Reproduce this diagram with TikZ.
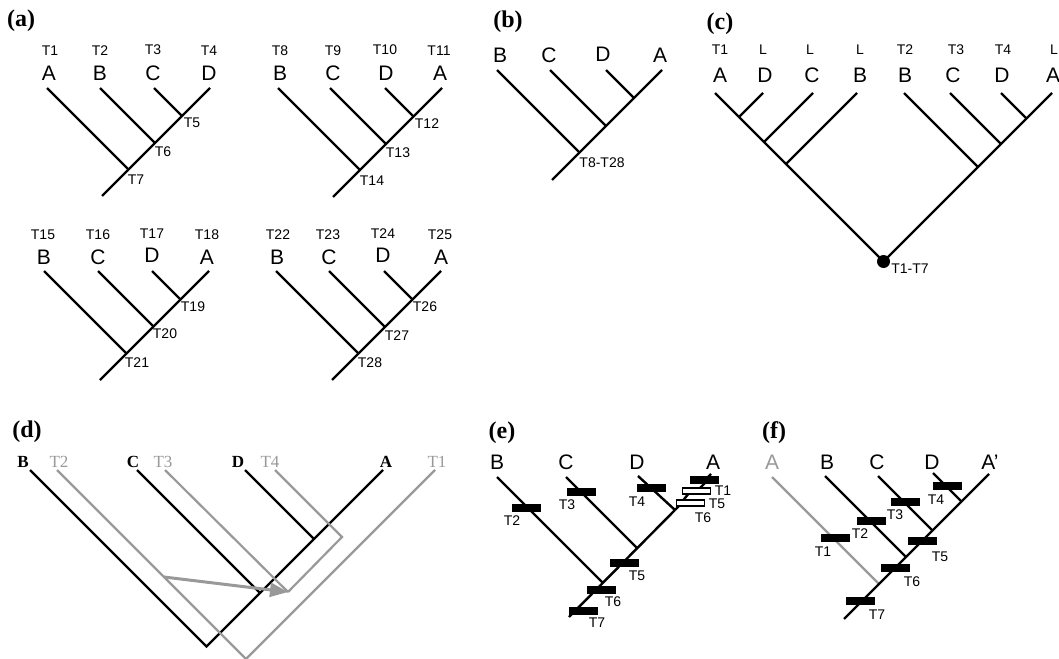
\documentclass[tikz,border=0pt]{standalone}
\usepackage{fontspec}
\setmainfont{Liberation Serif}
\newfontfamily\sansf{Liberation Sans}
\usetikzlibrary{arrows.meta}
\definecolor{gl}{gray}{0.6}
\begin{document}
\begin{tikzpicture}[x=1pt,y=-1pt,
  tree/.style={line width=2.4pt},
  gtree/.style={line width=2.2pt,draw=gl},
  lett/.style={font=\sansf\fontsize{21}{21}\selectfont,anchor=base,inner sep=0},
  tlab/.style={font=\sansf\fontsize{14}{14}\selectfont,anchor=base,inner sep=0},
  jlab/.style={font=\sansf\fontsize{14}{14}\selectfont,inner sep=0},
  panel/.style={font=\bfseries\fontsize{24}{24}\selectfont,inner sep=0},
  dlet/.style={font=\bfseries\fontsize{17}{17}\selectfont,anchor=base,inner sep=0},
  dgl/.style={font=\fontsize{17}{17}\selectfont,anchor=base,inner sep=0,text=gl},
  bar/.style={fill=black,minimum width=29pt,minimum height=8pt,inner sep=0},
  wbar/.style={draw=black,fill=white,line width=1.3pt,minimum width=28pt,minimum height=6pt,inner sep=0},
]
\useasboundingbox (0,0) rectangle (1059,658);

% ---------------- panel (a) ----------------
\node[panel] (pa) at (21,21) {(a)};
% tree 1
\node[tlab] (a1L1) at (50,56) {T1};
\node[tlab] (a1L2) at (100,56) {T2};
\node[tlab] (a1L3) at (153,55) {T3};
\node[tlab] (a1L4) at (209,56) {T4};
\node[lett] (a1A) at (49,81) {A};
\node[lett] (a1B) at (100,81) {B};
\node[lett] (a1C) at (153,81) {C};
\node[lett] (a1D) at (209,81) {D};
\coordinate (a1t1) at (47,88);
\coordinate (a1t2) at (100,88);
\coordinate (a1t3) at (154,88);
\coordinate (a1t4) at (210,88);
\coordinate (a1j3) at (182,116);
\coordinate (a1j2) at (155,143);
\coordinate (a1j1) at (128.5,169.5);
\coordinate (a1r) at (102,196);
\draw[tree] (a1t4) -- (a1r);
\draw[tree] (a1t1) -- (a1j1);
\draw[tree] (a1t2) -- (a1j2);
\draw[tree] (a1t3) -- (a1j3);
\node[jlab] (a1n5) at (192,123) {T5};
\node[jlab] (a1n6) at (163,152) {T6};
\node[jlab] (a1n7) at (136,180) {T7};
% tree 2
\node[tlab] (a2L1) at (280,56) {T8};
\node[tlab] (a2L2) at (333,56) {T9};
\node[tlab] (a2L3) at (385,55) {T10};
\node[tlab] (a2L4) at (439,56) {T11};
\node[lett] (a2B) at (280,81) {B};
\node[lett] (a2C) at (333,81) {C};
\node[lett] (a2D) at (386,81) {D};
\node[lett] (a2A) at (440,81) {A};
\coordinate (a2t1) at (278,88);
\coordinate (a2t2) at (330,88);
\coordinate (a2t3) at (385,88);
\coordinate (a2t4) at (442,88);
\coordinate (a2j3) at (413.5,116.5);
\coordinate (a2j2) at (386,144);
\coordinate (a2j1) at (360,170);
\coordinate (a2r) at (333,197);
\draw[tree] (a2t4) -- (a2r);
\draw[tree] (a2t1) -- (a2j1);
\draw[tree] (a2t2) -- (a2j2);
\draw[tree] (a2t3) -- (a2j3);
\node[jlab] (a2n12) at (427,124) {T12};
\node[jlab] (a2n13) at (398,153) {T13};
\node[jlab] (a2n14) at (372,181) {T14};
% tree 3
\node[tlab] (a3L1) at (43,239) {T15};
\node[tlab] (a3L2) at (98,239) {T16};
\node[tlab] (a3L3) at (152,238) {T17};
\node[tlab] (a3L4) at (207,239) {T18};
\node[lett] (a3B) at (44,264) {B};
\node[lett] (a3C) at (98,264) {C};
\node[lett] (a3D) at (152,262) {D};
\node[lett] (a3A) at (207,264) {A};
\coordinate (a3t1) at (44,271);
\coordinate (a3t2) at (98,271);
\coordinate (a3t3) at (152,271);
\coordinate (a3t4) at (209,271);
\coordinate (a3j3) at (180.5,299.5);
\coordinate (a3j2) at (153.5,326.5);
\coordinate (a3j1) at (126.5,353.5);
\coordinate (a3r) at (100,380);
\draw[tree] (a3t4) -- (a3r);
\draw[tree] (a3t1) -- (a3j1);
\draw[tree] (a3t2) -- (a3j2);
\draw[tree] (a3t3) -- (a3j3);
\node[jlab] (a3n19) at (193,307) {T19};
\node[jlab] (a3n20) at (165,334) {T20};
\node[jlab] (a3n21) at (137,363) {T21};
% tree 4
\node[tlab] (a4L1) at (278,239) {T22};
\node[tlab] (a4L2) at (328,239) {T23};
\node[tlab] (a4L3) at (383,238) {T24};
\node[tlab] (a4L4) at (440,239) {T25};
\node[lett] (a4B) at (277,264) {B};
\node[lett] (a4C) at (329,264) {C};
\node[lett] (a4D) at (383,262) {D};
\node[lett] (a4A) at (441,264) {A};
\coordinate (a4t1) at (276,271);
\coordinate (a4t2) at (329,271);
\coordinate (a4t3) at (384,271);
\coordinate (a4t4) at (441,271);
\coordinate (a4j3) at (412.5,299.5);
\coordinate (a4j2) at (385,327);
\coordinate (a4j1) at (358.5,353.5);
\coordinate (a4r) at (332,380);
\draw[tree] (a4t4) -- (a4r);
\draw[tree] (a4t1) -- (a4j1);
\draw[tree] (a4t2) -- (a4j2);
\draw[tree] (a4t3) -- (a4j3);
\node[jlab] (a4n26) at (425,307) {T26};
\node[jlab] (a4n27) at (397,336) {T27};
\node[jlab] (a4n28) at (370,363) {T28};

% ---------------- panel (b) ----------------
\node[panel] (pb) at (508,22) {(b)};
\node[lett] (bB) at (500,63) {B};
\node[lett] (bC) at (549,63) {C};
\node[lett] (bD) at (603,62) {D};
\node[lett] (bA) at (660,63) {A};
\coordinate (bt1) at (497,70);
\coordinate (bt2) at (550,70);
\coordinate (bt3) at (606,70);
\coordinate (bt4) at (662,70);
\coordinate (bj3) at (634,98);
\coordinate (bj2) at (606,126);
\coordinate (bj1) at (579.5,152.5);
\coordinate (br) at (552,180);
\draw[tree] (bt4) -- (br);
\draw[tree] (bt1) -- (bj1);
\draw[tree] (bt2) -- (bj2);
\draw[tree] (bt3) -- (bj3);
\node[jlab] (bn) at (602,163) {T8-T28};

% ---------------- panel (c) ----------------
\node[panel] (pc) at (720,24) {(c)};
\node[tlab] (cL1) at (720,55) {T1};
\node[tlab] (cL2) at (763,55) {L};
\node[tlab] (cL3) at (810,55) {L};
\node[tlab] (cL4) at (860,55) {L};
\node[tlab] (cL5) at (905,55) {T2};
\node[tlab] (cL6) at (956,55) {T3};
\node[tlab] (cL7) at (1003,55) {T4};
\node[tlab] (cL8) at (1054,55) {L};
\node[lett] (cA1) at (720,83) {A};
\node[lett] (cD1) at (765,83) {D};
\node[lett] (cC1) at (812,83) {C};
\node[lett] (cB1) at (860,83) {B};
\node[lett] (cB2) at (905,83) {B};
\node[lett] (cC2) at (953,83) {C};
\node[lett] (cD2) at (1002,83) {D};
\node[lett] (cA2) at (1053,83) {A};
\coordinate (ctA1) at (715,93);
\coordinate (ctD1) at (763,93);
\coordinate (ctC1) at (813,93);
\coordinate (ctB1) at (857,93);
\coordinate (ctB2) at (904,93);
\coordinate (ctC2) at (950,93);
\coordinate (ctD2) at (1001,93);
\coordinate (ctA2) at (1052,93);
\coordinate (cjD1) at (739,117);
\coordinate (cjC1) at (764,142);
\coordinate (cjB1) at (786,164);
\coordinate (cjB2) at (978,167);
\coordinate (cjC2) at (1001,144);
\coordinate (cjD2) at (1026.5,118.5);
\coordinate (croot) at (883.5,261.5);
\draw[tree] (ctA1) -- (croot) -- (ctA2);
\draw[tree] (ctD1) -- (cjD1);
\draw[tree] (ctC1) -- (cjC1);
\draw[tree] (ctB1) -- (cjB1);
\draw[tree] (ctB2) -- (cjB2);
\draw[tree] (ctC2) -- (cjC2);
\draw[tree] (ctD2) -- (cjD2);
\fill (croot) circle (6.5pt);
\node[jlab] (cn) at (910,269) {T1-T7};

% ---------------- panel (d) ----------------
\node[panel] (pd) at (27,432) {(d)};
\node[dlet] (dB) at (23,467) {B};
\node[dgl] (dT2) at (59,467) {T2};
\node[dlet] (dC) at (133,467) {C};
\node[dgl] (dT3) at (163,467) {T3};
\node[dlet] (dD) at (238,467) {D};
\node[dgl] (dT4) at (270,467) {T4};
\node[dlet] (dA) at (386,467) {A};
\node[dgl] (dT1) at (437,467) {T1};
% host tree (black)
\coordinate (dtB) at (30,470);
\coordinate (dtC) at (137,470);
\coordinate (dtD) at (245,470);
\coordinate (dtA) at (383,470);
\coordinate (djD) at (314,539);
\coordinate (djC) at (260,593);
\coordinate (droot) at (206.5,646.5);
\draw[tree] (dtB) -- (droot) -- (dtA);
\draw[tree] (dtC) -- (djC);
\draw[tree] (dtD) -- (djD);
% parasite tree (gray)
\coordinate (dtT2) at (57,470);
\coordinate (dtT3) at (165,470);
\coordinate (dtT4) at (275,470);
\coordinate (dtT1) at (435,470);
\coordinate (dbend) at (342,537);
\coordinate (dj34) at (288,592);
\coordinate (dgroot) at (246,659);
\coordinate (darr) at (164,577);
\draw[gtree] (dtT2) -- (dgroot) -- (dtT1);
\draw[gtree] (dtT3) -- (dj34);
\draw[gtree] (dtT4) -- (dbend) -- (dj34);
\draw[draw=gl,line width=3pt,-{Triangle[length=18pt,width=14pt,fill=gl]}] (darr) -- (dj34);

% ---------------- panel (e) ----------------
\node[panel] (pe) at (502,433) {(e)};
\node[lett] (eBl) at (497,469) {B};
\node[lett] (eCl) at (566,469) {C};
\node[lett] (eDl) at (637,469) {D};
\node[lett] (eAl) at (713,469) {A};
\coordinate (eB) at (497,477);
\coordinate (eC) at (566,477);
\coordinate (eD) at (638,476);
\coordinate (eJ) at (675,510);
\coordinate (eJC) at (637,548);
\coordinate (eJB) at (602.5,582.5);
\coordinate (eR) at (569,617);
\coordinate (ez2) at (679,506);
\coordinate (ez3) at (685,498);
\coordinate (ez4) at (689,493);
\coordinate (ez5) at (700,488);
\coordinate (ez6) at (705,483);
\coordinate (ez7) at (708,477);
\coordinate (ez8) at (711,474);
\draw[tree] (eJ) -- (eR);
\draw[tree] (eB) -- (eJB);
\draw[tree] (eC) -- (eJC);
\draw[tree] (eD) -- (eJ);
\draw[tree] (eJ) -- (ez2) -- (ez3) -- (ez4) -- (ez5) -- (ez6) -- (ez7) -- (ez8);
\node[bar] (eb2) at (526,508) {};
\node[bar] (eb3) at (581,492) {};
\node[bar] (eb4) at (651,488) {};
\node[bar] (eb1) at (704.5,480) {};
\node[wbar] (ew5) at (696.5,491) {};
\node[wbar] (ew6) at (690.5,503) {};
\node[bar] (eb5) at (624,563) {};
\node[bar] (eb6) at (601,590) {};
\node[bar] (eb7) at (583,611) {};
\node[jlab] (elT2) at (512,521) {T2};
\node[jlab] (elT3) at (567,505) {T3};
\node[jlab] (elT4) at (637,502) {T4};
\node[jlab] (elT1) at (723,491) {T1};
\node[jlab] (elT5w) at (717,504) {T5};
\node[jlab] (elT6w) at (703,518) {T6};
\node[jlab] (elT5) at (637,576) {T5};
\node[jlab] (elT6) at (613,602) {T6};
\node[jlab] (elT7) at (597,623) {T7};

% ---------------- panel (f) ----------------
\node[panel] (pf) at (774,433) {(f)};
\node[lett,text=gl] (fAl) at (772,469) {A};
\node[lett] (fBl) at (827,469) {B};
\node[lett] (fCl) at (877,469) {C};
\node[lett] (fDl) at (932,469) {D};
\node[lett] (fApl) at (990,469) {A’};
\coordinate (fA) at (772,477);
\coordinate (fB) at (825,476);
\coordinate (fC) at (878,476);
\coordinate (fD) at (933,473);
\coordinate (fAp) at (989,474);
\coordinate (fJA) at (879,584);
\coordinate (fJB) at (906,557);
\coordinate (fJC) at (932.5,530.5);
\coordinate (fJD) at (961.5,501.5);
\coordinate (fR) at (844,619);
\draw[gtree] (fA) -- (fJA);
\draw[tree] (fAp) -- (fR);
\draw[tree] (fB) -- (fJB);
\draw[tree] (fC) -- (fJC);
\draw[tree] (fD) -- (fJD);
\node[bar] (fb4) at (947,486) {};
\node[bar] (fb3) at (905,502) {};
\node[bar] (fb2) at (871,521) {};
\node[bar] (fb1) at (835,538) {};
\node[bar] (fb5) at (922,541) {};
\node[bar] (fb6) at (895,568) {};
\node[bar] (fb7) at (860,601) {};
\node[jlab] (flT4) at (936,500) {T4};
\node[jlab] (flT3) at (895,515) {T3};
\node[jlab] (flT2) at (860,534) {T2};
\node[jlab] (flT1) at (823,552) {T1};
\node[jlab] (flT5) at (940,557) {T5};
\node[jlab] (flT6) at (912,582) {T6};
\node[jlab] (flT7) at (877,615) {T7};
\end{tikzpicture}
\end{document}
